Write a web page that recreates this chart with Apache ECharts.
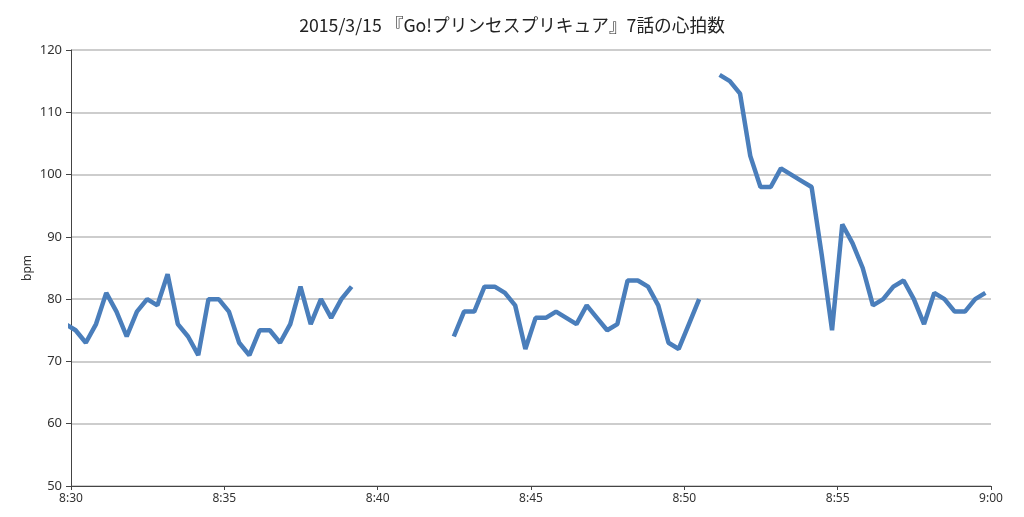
<!DOCTYPE html>
<html>
<head>
<meta charset="utf-8">
<script src="https://cdn.jsdelivr.net/npm/echarts@6/dist/echarts.min.js"></script>
<style>
html,body{margin:0;padding:0;background:#fff;}
#c{width:1024px;height:517px;}
</style>
</head>
<body>
<div id="c"></div>
<script>
const titleText = '2015/3/15 『Go!プリンセスプリキュア』7話の心拍数';
const yAxisName = 'bpm';
const xTickLabels = ['8:30', '8:35', '8:40', '8:45', '8:50', '8:55', '9:00'];

const seg1Times = ['8:29:49','8:30:09','8:30:29','8:30:49','8:31:09','8:31:29','8:31:49','8:32:09','8:32:29','8:32:49','8:33:09','8:33:29','8:33:49','8:34:09','8:34:29','8:34:49','8:35:09','8:35:29','8:35:49','8:36:09','8:36:29','8:36:49','8:37:09','8:37:29','8:37:49','8:38:09','8:38:29','8:38:49','8:39:09'];
const seg1Values = [76,75,73,76,81,78,74,78,80,79,84,76,74,71,80,80,78,73,71,75,75,73,76,82,76,80,77,80,82];

const seg2Times = ['8:42:29','8:42:49','8:43:09','8:43:29','8:43:49','8:44:09','8:44:29','8:44:49','8:45:09','8:45:29','8:45:49','8:46:09','8:46:29','8:46:49','8:47:09','8:47:29','8:47:49','8:48:09','8:48:29','8:48:49','8:49:09','8:49:29','8:49:49','8:50:09','8:50:29'];
const seg2Values = [74,78,78,82,82,81,79,72,77,77,78,77,76,79,77,75,76,83,83,82,79,73,72,76,80];

const seg3Times = ['8:51:09','8:51:29','8:51:49','8:52:09','8:52:29','8:52:49','8:53:09','8:53:29','8:53:49','8:54:09','8:54:29','8:54:49','8:55:09','8:55:29','8:55:49','8:56:09','8:56:29','8:56:49','8:57:09','8:57:29','8:57:49','8:58:09','8:58:29','8:58:49','8:59:09','8:59:29','8:59:49'];
const seg3Values = [116,115,113,103,98,98,101,100,99,98,87,75,92,89,85,79,80,82,83,80,76,81,80,78,78,80,81];

// minutes since 8:30
function toMin(s){
  const p = s.split(':').map(Number);
  return (p[0]*60 + p[1] + (p[2]||0)/60) - (8*60+30);
}
function pairs(times, vals){ return times.map((t,i)=>[toMin(t), vals[i]]); }

const lineColor = '#4a7ebb';
function seg(times, vals){
  return {
    type:'line', data: pairs(times, vals), showSymbol:false, symbol:'none',
    lineStyle:{color:lineColor, width:4.5}, clip:true, animation:false
  };
}

const chart = echarts.init(document.getElementById('c'), null, {renderer:'canvas'});
chart.setOption({
  animation:false,
  backgroundColor:'#fff',
  title:{
    text:titleText, left:'center', top:11,
    textStyle:{fontSize:17.7, fontWeight:'normal', color:'#222', fontFamily:'"Noto Sans CJK JP", sans-serif'}
  },
  grid:{left:71, right:33, top:50, bottom:31, containLabel:false},
  xAxis:{
    type:'value', min:0, max:30, interval:5,
    axisLine:{show:true, lineStyle:{color:'#444', width:1}},
    axisTick:{show:true, length:4, lineStyle:{color:'#444'}},
    splitLine:{show:false},
    axisLabel:{
      fontSize:12, color:'#333', margin:7, fontFamily:'"Noto Sans", sans-serif',
      formatter:function(v){ return xTickLabels[Math.round(v/5)] || ''; }
    }
  },
  yAxis:{
    type:'value', min:50, max:120, interval:10,
    name:yAxisName, nameLocation:'middle', nameRotate:90, nameGap:37,
    nameMoveOverlap:false,
    nameTextStyle:{fontSize:12, color:'#333', fontFamily:'"Noto Sans", sans-serif'},
    axisLine:{show:true, lineStyle:{color:'#444', width:1}},
    axisTick:{show:true, length:5, lineStyle:{color:'#444'}},
    splitLine:{show:true, lineStyle:{color:'#bdbdbd', width:1.5}},
    axisLabel:{fontSize:13, color:'#333', margin:9, fontFamily:'"Noto Sans", sans-serif'}
  },
  series:[ seg(seg1Times, seg1Values), seg(seg2Times, seg2Values), seg(seg3Times, seg3Values) ]
});
</script>
</body>
</html>
